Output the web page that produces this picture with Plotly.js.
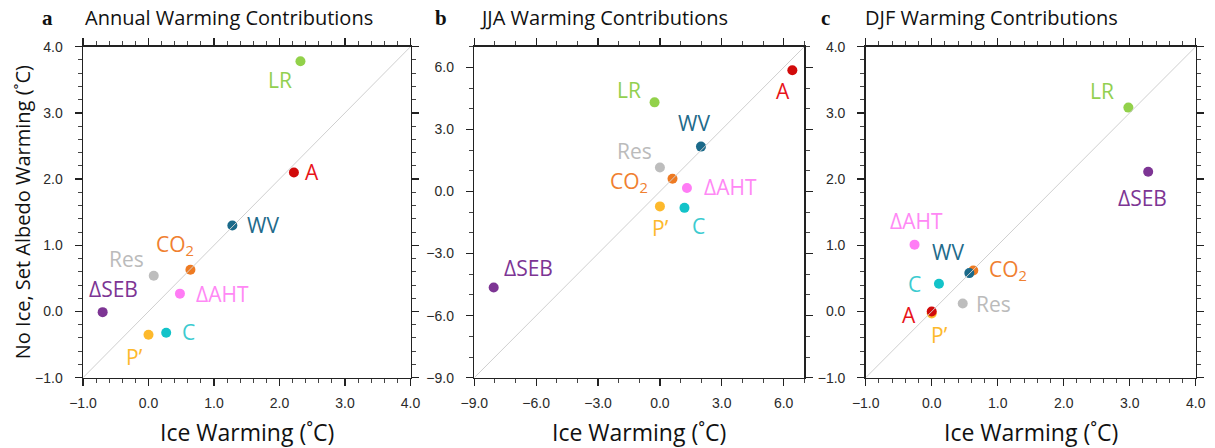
<!DOCTYPE html>
<html>
<head>
<meta charset="utf-8">
<script src="https://cdn.plot.ly/plotly-3.0.1.min.js"></script>
<style>html,body{margin:0;padding:0;background:#fff;}#chart{width:1215px;height:448px;}</style>
</head>
<body>
<div id="chart"></div>
<script>
// Categories (drawing order: later items drawn on top)
const categories = ["P’", "A", "CO<sub>2</sub>", "WV", "LR", "Res", "ΔAHT", "ΔSEB", "C"];

// Annual
const annualIce   = [0.00, 2.22, 0.64, 1.28, 2.32, 0.08, 0.48, -0.70, 0.27];
const annualNoIce = [-0.35, 2.10, 0.63, 1.30, 3.78, 0.54, 0.27, -0.01, -0.32];
// JJA
const jjaIce   = [0.00, 6.42, 0.61, 1.99, -0.26, 0.00, 1.31, -8.06, 1.19];
const jjaNoIce = [-0.72, 5.86, 0.62, 2.17, 4.31, 1.16, 0.17, -4.64, -0.79];
// DJF
const djfIce   = [0.00, 0.00, 0.63, 0.57, 2.98, 0.47, -0.26, 3.28, 0.11];
const djfNoIce = [-0.03, 0.00, 0.62, 0.58, 3.08, 0.12, 1.01, 2.11, 0.42];

const panelTitles = ["Annual Warming Contributions", "JJA Warming Contributions", "DJF Warming Contributions"];
const panelLetters = ["a", "b", "c"];
const axisRanges = [[-1, 4], [-9, 7], [-1, 4]];
const majorTicks = [1, 3, 1];
const minorTicks = [0.2, 1, 0.2];

// styles
const markerColors = ["#fdb92c", "#d10a0a", "#ee7a22", "#1b6a8a", "#92d14a", "#bdbdbd", "#ff7cf5", "#7d3594", "#13c3c9"];
const labelColors  = ["#fdb92c", "#e8141a", "#f08030", "#1f6b8b", "#92d050", "#bbbbbb", "#ff88f5", "#7d3594", "#3ccbd0"];

// label offsets in pixels [dx, dy] per panel (same order as categories)
const labelOffsets = [
  [[-14,-22],[18,0],[-15,25],[31,0],[-20,-19],[-27,17],[43,0],[11,23],[22,1]],
  [[1,-22],[-9,-21],[-44,-3],[-7,24],[-26,12],[-25,17],[44,1],[35,20],[14,-18]],
  [[8,-22],[-23,-3],[35,0],[-21,21],[-26,17],[31,0],[2,24],[-6,-26],[-24,0]]
];

const xs = [annualIce, jjaIce, djfIce];
const ys = [annualNoIce, jjaNoIce, djfNoIce];

const W = 1215, H = 448;
const xDomPx = [[83, 410.5], [474.3, 804.3], [865.7, 1195.7]];
const yDomPx = [46.7, 377.7];
const yDom = [(H - yDomPx[1]) / H, (H - yDomPx[0]) / H];

const fontTitle = "'Open Sans', Lato, sans-serif";
const traces = [];
const annotations = [];
const layout = {
  width: W, height: H,
  margin: {l: 0, r: 0, t: 0, b: 0},
  paper_bgcolor: "#fff", plot_bgcolor: "#fff",
  showlegend: false,
  annotations: annotations
};

for (let p = 0; p < 3; p++) {
  const sfx = p === 0 ? "" : String(p + 1);
  const xa = "x" + sfx, ya = "y" + sfx;
  traces.push({
    type: "scatter", mode: "markers",
    x: xs[p], y: ys[p], xaxis: xa, yaxis: ya,
    marker: {size: 10, color: markerColors, line: {width: 0}},
    cliponaxis: false, hoverinfo: "skip"
  });
  traces.push({
    type: "scatter", mode: "lines",
    x: axisRanges[p], y: axisRanges[p], xaxis: xa, yaxis: ya,
    line: {color: "#cfcfcf", width: 1}, hoverinfo: "skip"
  });
  const axCommon = {
    range: axisRanges[p], dtick: majorTicks[p], tick0: 0,
    tickformat: ".1f", ticks: "outside", ticklen: 7, tickwidth: 1.3, tickcolor: "#222",
    showline: true, linecolor: "#222", linewidth: 1.5, mirror: "ticks",
    showgrid: false, zeroline: false, fixedrange: true,
    tickfont: {family: "'Liberation Sans', Arial, sans-serif", size: 14, color: "#2a2a2a"},
    minor: {dtick: minorTicks[p], ticks: "outside", ticklen: 4, tickwidth: 1, tickcolor: "#444", showgrid: false}
  };
  layout["xaxis" + sfx] = Object.assign({}, axCommon, {
    domain: [xDomPx[p][0] / W, xDomPx[p][1] / W], anchor: ya, ticklabelstandoff: 5
  });
  layout["yaxis" + sfx] = Object.assign({}, axCommon, {
    domain: yDom, anchor: xa, ticklabelstandoff: 9
  });
  // point labels
  for (let i = 0; i < categories.length; i++) {
    annotations.push({
      xref: xa, yref: ya, x: xs[p][i], y: ys[p][i],
      text: categories[i], showarrow: false,
      xshift: labelOffsets[p][i][0], yshift: labelOffsets[p][i][1],
      font: {family: fontTitle, size: 21, color: labelColors[i]}
    });
  }
  // panel title
  annotations.push({
    xref: "paper", yref: "paper", x: xDomPx[p][0] / W + (p === 1 ? 4 / W : (p === 2 ? -3 / W : 0)), y: (H - 18) / H,
    xanchor: "left", yanchor: "middle", showarrow: false,
    text: panelTitles[p], font: {family: fontTitle, size: 20, color: "#111"}
  });
  // panel letter
  const letterX = [47, 441, 825][p];
  annotations.push({
    xref: "paper", yref: "paper", x: letterX / W, y: (H - 18) / H,
    xanchor: "center", yanchor: "middle", showarrow: false,
    text: "<b>" + panelLetters[p] + "</b>", font: {family: "'Liberation Serif', 'DejaVu Serif', serif", size: 21, color: "#111"}
  });
  // x-axis title
  annotations.push({
    xref: "paper", yref: "paper", x: (xDomPx[p][0] + xDomPx[p][1]) / 2 / W, y: (H - 432) / H,
    xanchor: "center", yanchor: "middle", showarrow: false,
    text: "Ice Warming (˚C)", font: {family: fontTitle, size: 23, color: "#111"}
  });
}
// y-axis title (panel a)
annotations.push({
  xref: "paper", yref: "paper", x: 22 / W, y: (yDom[0] + yDom[1]) / 2,
  xanchor: "center", yanchor: "middle", showarrow: false, textangle: -90,
  text: "No Ice, Set Albedo Warming (˚C)", font: {family: fontTitle, size: 20, color: "#111"}
});

Plotly.newPlot("chart", traces, layout, {staticPlot: true, displayModeBar: false});
</script>
</body>
</html>
